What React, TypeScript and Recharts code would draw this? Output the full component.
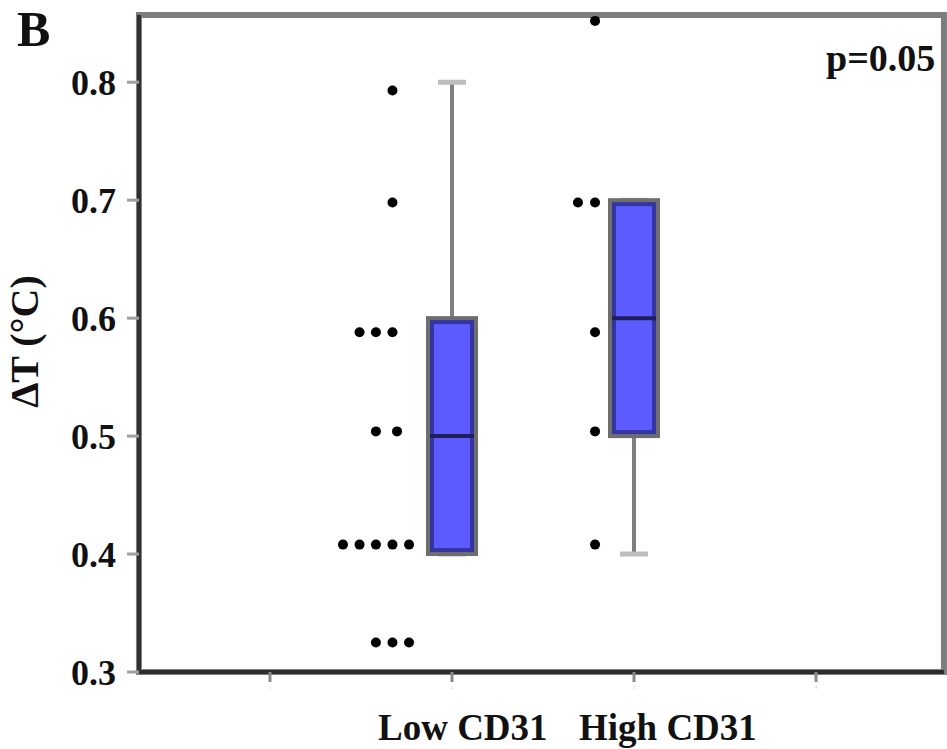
import { ComposedChart, Bar, Scatter, XAxis, YAxis, ReferenceArea, Label } from "recharts";

// box plot summary per category (first and last slot are empty)
const categories = ["1", "Low CD31", "High CD31", "4"];
const q1 = [null, 0.4, 0.5, null];
const median = [null, 0.5, 0.6, null];
const q3 = [null, 0.6, 0.7, null];
const whiskerLow = [null, 0.4, 0.4, null];
const whiskerHigh = [null, 0.8, 0.7, null];

// individual observations, drawn as a dot plot left of each box
const lowX = [1.673, 1.673, 1.492, 1.582, 1.673, 1.582, 1.698, 1.401, 1.492, 1.582, 1.673, 1.764, 1.582, 1.673, 1.764];
const lowY = [0.793, 0.698, 0.588, 0.588, 0.588, 0.504, 0.504, 0.408, 0.408, 0.408, 0.408, 0.408, 0.325, 0.325, 0.325];
const highX = [2.786, 2.692, 2.786, 2.786, 2.786, 2.786];
const highY = [0.852, 0.698, 0.698, 0.588, 0.504, 0.408];

const yTicks = [0.3, 0.4, 0.5, 0.6, 0.7, 0.8];
const Y_MIN = 0.3;
const Y_MAX = 0.857;
// x extent of the plotting frame, in category units
const X_MIN = 0.28;
const X_MAX = 4.703;

const FONT = "'Liberation Serif', 'Times New Roman', serif";

const boxData = categories.map((name, i) => ({
  name,
  range: whiskerLow[i] == null ? undefined : [whiskerLow[i], whiskerHigh[i]],
  q1: q1[i],
  median: median[i],
  q3: q3[i],
}));

const lowPoints = lowX.map((x, i) => ({ x, y: lowY[i] }));
const highPoints = highX.map((x, i) => ({ x, y: highY[i] }));

function BoxShape(props: any) {
  const { x, y, width, height, payload } = props;
  if (!payload || payload.q1 == null || payload.range == null) return null;
  const [lo, hi] = payload.range;
  const top0 = Math.min(y, y + height);
  const h = Math.abs(height);
  const py = (v: number) => top0 + (h * (hi - v)) / (hi - lo);
  const cx = x + width / 2;
  const top = py(payload.q3);
  const bottom = py(payload.q1);
  const med = py(payload.median);
  return (
    <g>
      <line x1={cx} x2={cx} y1={top0} y2={top0 + h} stroke="#7f7f7f" strokeWidth={4} />
      <line x1={cx - 14} x2={cx + 14} y1={top0} y2={top0} stroke="#bdbdbd" strokeWidth={5} />
      <line x1={cx - 14} x2={cx + 14} y1={top0 + h} y2={top0 + h} stroke="#bdbdbd" strokeWidth={5} />
      <rect x={x + 2} y={top} width={width - 4} height={bottom - top} fill="#5b5bff" stroke="#6e6e6e" strokeWidth={4} />
      <rect x={x + 6} y={top + 4} width={width - 12} height={bottom - top - 8} fill="none" stroke="#3535a0" strokeWidth={4} />
      <line x1={x + 4} x2={x + width - 4} y1={med} y2={med} stroke="#1e1e5a" strokeWidth={4} />
    </g>
  );
}

const Dot = (p: any) => <circle cx={p.cx} cy={p.cy} r={5} fill="#000" />;

const XLabel = (p: any) => {
  const vb = p.viewBox;
  return (
    <g>
      <text x={vb.x + 239} y={vb.y + 68} fontFamily={FONT} fontWeight={700} fontSize={37} fill="#111">
        Low CD31
      </text>
      <text x={vb.x + 440} y={vb.y + 68} fontFamily={FONT} fontWeight={700} fontSize={37} fill="#111">
        High CD31
      </text>
    </g>
  );
};

const YLabel = (p: any) => {
  const vb = p.viewBox;
  const cx = vb.x + 38;
  const cy = vb.y + vb.height / 2 - 2;
  return (
    <text x={cx} y={cy} transform={`rotate(-90, ${cx}, ${cy})`} textAnchor="middle" fontFamily={FONT} fontWeight={700} fontSize={40} fill="#111">
      ΔT (°C)
    </text>
  );
};

export default function App() {
  return (
    <div style={{ position: "absolute", left: 0, top: 0, width: 947, height: 749, background: "#fff" }}>
      <ComposedChart width={947} height={749} data={boxData} margin={{ top: 15, right: 3, bottom: 0, left: 0 }}>
        <ReferenceArea xAxisId="num" yAxisId="y" x1={X_MIN} x2={X_MAX} y1={Y_MIN} y2={Y_MAX} fill="none" stroke="#7d7d7d" strokeWidth={6} ifOverflow="visible" />
        <XAxis
          xAxisId="cat"
          dataKey="name"
          type="category"
          padding={{ left: 40, right: 37 }}
          height={77}
          interval={0}
          axisLine={{ stroke: "#2b2b2b", strokeWidth: 4 }}
          tickLine={{ stroke: "#8a8a8a", strokeWidth: 3 }}
          tickSize={10}
          tick={{ fontSize: 7, fill: "#dddddd", fontFamily: FONT }}
          tickFormatter={(_v: any, i: number) => String(i + 1)}
        >
          <Label content={XLabel} />
        </XAxis>
        <XAxis xAxisId="num" dataKey="x" type="number" domain={[0.5, 4.5]} allowDataOverflow padding={{ left: 40, right: 37 }} hide height={0} />
        <YAxis
          yAxisId="y"
          dataKey="y"
          type="number"
          domain={[Y_MIN, Y_MAX]}
          ticks={yTicks}
          allowDataOverflow
          width={139}
          tickSize={12}
          tickMargin={11}
          axisLine={{ stroke: "#303030", strokeWidth: 4 }}
          tickLine={{ stroke: "#a0a0a0", strokeWidth: 3 }}
          tick={{ fontFamily: FONT, fontWeight: 700, fontSize: 36, fill: "#111" }}
          tickFormatter={(v: number) => v.toFixed(1)}
        >
          <Label content={YLabel} />
        </YAxis>
        <Bar xAxisId="cat" yAxisId="y" dataKey="range" barSize={52} shape={BoxShape} isAnimationActive={false} />
        <Scatter xAxisId="num" yAxisId="y" data={lowPoints} dataKey="y" shape={Dot} isAnimationActive={false} />
        <Scatter xAxisId="num" yAxisId="y" data={highPoints} dataKey="y" shape={Dot} isAnimationActive={false} />
      </ComposedChart>
      <svg width={947} height={749} style={{ position: "absolute", left: 0, top: 0, pointerEvents: "none" }}>
        <text x={17} y={46} fontFamily={FONT} fontWeight={700} fontSize={50} fill="#111">
          B
        </text>
        <text x={826} y={71} fontFamily={FONT} fontWeight={700} fontSize={38} fill="#111">
          p=0.05
        </text>
      </svg>
    </div>
  );
}
